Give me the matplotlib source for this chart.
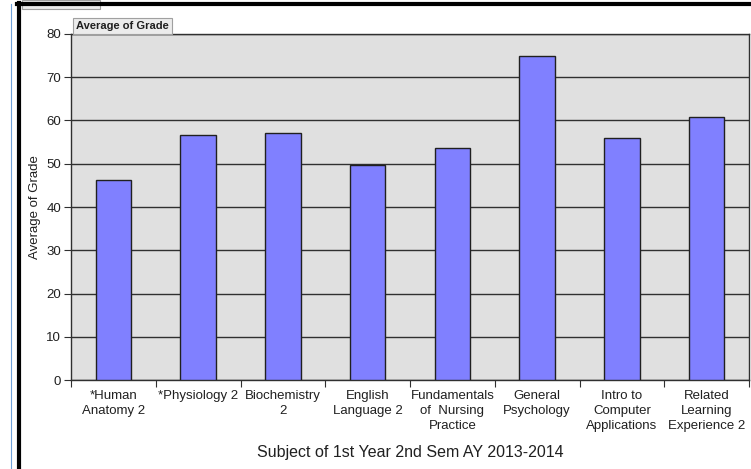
import matplotlib
matplotlib.use("Agg")
import matplotlib.pyplot as plt
from matplotlib.patches import Rectangle
from matplotlib.lines import Line2D

categories = ["*Human\nAnatomy 2", "*Physiology 2", "Biochemistry\n2", "English\nLanguage 2",
              "Fundamentals\nof  Nursing\nPractice", "General\nPsychology", "Intro to\nComputer\nApplications",
              "Related\nLearning\nExperience 2"]
values = [46.2, 56.7, 57.1, 49.6, 53.6, 74.9, 56.0, 60.9]
yticks = [0, 10, 20, 30, 40, 50, 60, 70, 80]

plt.rcParams['font.family'] = ['Liberation Sans', 'DejaVu Sans']

fig = plt.figure(figsize=(7.51, 4.69), dpi=100)
ax = fig.add_axes([71/751, 1-380/469, (749-71)/751, (380-34)/469])
ax.set_facecolor('#e0e0e0')

x = list(range(len(categories)))
ax.bar(x, values, width=0.42, color='#8080ff', edgecolor='#202020', linewidth=1.0, zorder=3)

ax.set_xlim(-0.5, len(categories)-0.5)
ax.set_ylim(0, 80)
ax.set_yticks(yticks)
ax.yaxis.grid(True, color='#303030', linewidth=1.0, zorder=1)
ax.tick_params(axis='y', labelsize=9.5, length=5, width=0.8, color='#303030', pad=2, labelcolor='#202020')

ax.set_xticks([i + 0.5 for i in range(-1, len(categories))], minor=False)
ax.set_xticklabels([])
ax.tick_params(axis='x', which='major', length=5, width=0.8, color='#303030')
ax.set_xticks(x, minor=True)
ax.set_xticklabels(categories, minor=True, fontsize=9.5, linespacing=1.35, va='top')
ax.tick_params(axis='x', which='minor', length=0, pad=7, labelcolor='#202020')

for s in ['top', 'right', 'bottom', 'left']:
    ax.spines[s].set_color('#303030')
    ax.spines[s].set_linewidth(1.0)

ax.set_ylabel("Average of Grade", fontsize=9.5, labelpad=4, color='#202020')
ax.set_xlabel("Subject of 1st Year 2nd Sem AY 2013-2014", fontsize=11.5, labelpad=9, color='#202020')

# field button label
fig.text(76/751, 1-26/469, "Average of Grade", fontsize=8, fontweight='bold', va='center', ha='left',
         color='#202020',
         bbox=dict(boxstyle='square,pad=0.25', facecolor='#ececec', edgecolor='#a0a0a0', linewidth=0.8))
# partial "All" box at top
fig.patches.append(Rectangle((22/751, 1-9/469), 78/751, 9/469, transform=fig.transFigure,
                             facecolor='#ececec', edgecolor='#a0a0a0', linewidth=0.8))
# thick black frame lines (window border)
fig.lines.append(Line2D([18.5/751, 18.5/751], [0, 1-3/469], transform=fig.transFigure, color='black', linewidth=3))
fig.lines.append(Line2D([17/751, 1], [1-4.5/469, 1-4.5/469], transform=fig.transFigure, color='black', linewidth=3))
fig.lines.append(Line2D([11/751, 11/751], [0, 1-4/469], transform=fig.transFigure, color='#6fa0d8', linewidth=0.8))

fig.savefig("out.png", dpi=100, facecolor='white')
